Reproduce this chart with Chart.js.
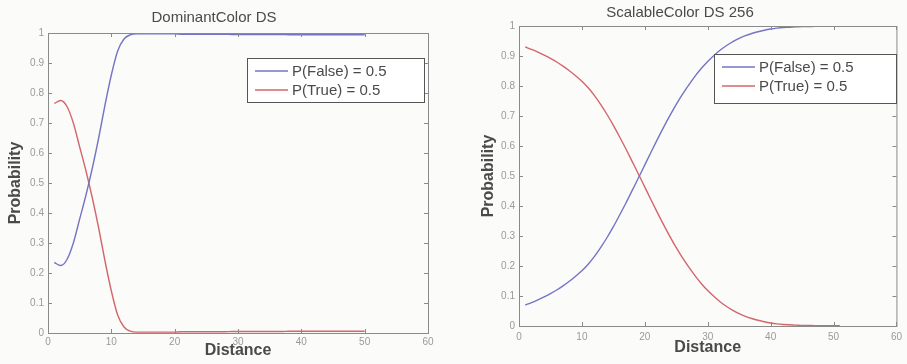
<!DOCTYPE html>
<html>
<head>
<meta charset="utf-8">
<script src="https://cdn.jsdelivr.net/npm/chart.js@4.4.0/dist/chart.umd.min.js"></script>
<style>
  html, body { margin:0; padding:0; background:#fbfbfa; }
  .wrap { position:absolute; top:0; height:364px; }
  canvas { display:block; }
</style>
</head>
<body>
<div class="wrap" style="left:0;width:455px"><canvas id="dominant" width="455" height="364"></canvas></div>
<div class="wrap" style="left:460px;width:447px"><canvas id="scalable" width="447" height="364"></canvas></div>
<script>
/* ── Data ── */
const SERIES_LABELS = ['P(False) = 0.5', 'P(True) = 0.5'];
const X_TICKS = [0, 10, 20, 30, 40, 50, 60];
const Y_TICKS = [0, 0.1, 0.2, 0.3, 0.4, 0.5, 0.6, 0.7, 0.8, 0.9, 1];

// DominantColor DS, distance 1..50
const DOM_DIST = [1,2,3,4,5,6,7,8,9,10,11,12,13,14,15,16,17,18,19,20,21,22,23,24,25,
                  26,27,28,29,30,31,32,33,34,35,36,37,38,39,40,41,42,43,44,45,46,47,48,49,50];
const DOM_FALSE = [0.235,0.225,0.245,0.30,0.38,0.46,0.55,0.65,0.76,0.86,0.94,0.98,0.994,0.997,0.997,
                   0.997,0.997,0.997,0.997,0.997,0.996,0.996,0.996,0.996,0.996,0.996,0.996,0.996,0.995,0.995,
                   0.995,0.995,0.995,0.995,0.995,0.995,0.995,0.994,0.994,0.994,0.994,0.994,0.994,0.994,0.994,
                   0.994,0.994,0.994,0.994,0.994];
const DOM_TRUE  = [0.765,0.775,0.755,0.70,0.62,0.54,0.45,0.35,0.24,0.14,0.06,0.02,0.006,0.003,0.003,
                   0.003,0.003,0.003,0.003,0.003,0.004,0.004,0.004,0.004,0.004,0.004,0.004,0.004,0.005,0.005,
                   0.005,0.005,0.005,0.005,0.005,0.005,0.005,0.006,0.006,0.006,0.006,0.006,0.006,0.006,0.006,
                   0.006,0.006,0.006,0.006,0.006];

// ScalableColor DS 256, distance 1..51
const SC_DIST = [1,2,3,4,5,6,7,8,9,10,11,12,13,14,15,16,17,18,19,20,21,22,23,24,25,26,
                 27,28,29,30,31,32,33,34,35,36,37,38,39,40,41,42,43,44,45,46,47,48,49,50,51];
const SC_FALSE = [0.07,0.078,0.087,0.097,0.108,0.12,0.134,0.149,0.166,0.184,0.206,0.232,0.262,0.295,0.331,
                  0.37,0.41,0.452,0.494,0.537,0.58,0.622,0.663,0.702,0.739,0.773,0.804,0.833,0.859,0.882,
                  0.902,0.92,0.935,0.948,0.959,0.968,0.975,0.981,0.986,0.99,0.993,0.995,0.996,0.997,0.998,
                  0.998,0.999,0.999,0.999,0.999,0.999];
const SC_TRUE  = [0.93,0.922,0.913,0.903,0.892,0.88,0.866,0.851,0.834,0.816,0.794,0.768,0.738,0.705,0.669,
                  0.63,0.59,0.548,0.506,0.463,0.42,0.378,0.337,0.298,0.261,0.227,0.196,0.167,0.141,0.118,
                  0.098,0.08,0.065,0.052,0.041,0.032,0.025,0.019,0.014,0.01,0.007,0.005,0.004,0.003,0.002,
                  0.002,0.001,0.001,0.001,0.001,0.001];

const BLUE = '#7474c4';
const RED  = '#d4666a';
const FRAME = '#8a8a8a';
const TICK_CLR = '#9a9a9a';
const TXT = '#4a4a4a';

const FONT = '"Liberation Sans", Arial, sans-serif';

/* ── Frame with inward ticks (all four sides) + boxed legend ── */
const matlabFrame = {
  id: 'matlabFrame',
  afterDatasetsDraw(chart, args, o) {
    const { ctx, chartArea: a, scales } = chart;
    const tl = 4;
    ctx.save();
    ctx.strokeStyle = FRAME;
    ctx.lineWidth = 1;
    ctx.strokeRect(a.left + 0.5, a.top + 0.5, a.right - a.left, a.bottom - a.top);
    ctx.beginPath();
    X_TICKS.forEach(v => {
      const px = Math.round(scales.x.getPixelForValue(v)) + 0.5;
      ctx.moveTo(px, a.bottom); ctx.lineTo(px, a.bottom - tl);
      ctx.moveTo(px, a.top);    ctx.lineTo(px, a.top + tl);
    });
    Y_TICKS.forEach(v => {
      const py = Math.round(scales.y.getPixelForValue(v)) + 0.5;
      ctx.moveTo(a.left, py);  ctx.lineTo(a.left + tl, py);
      ctx.moveTo(a.right, py); ctx.lineTo(a.right - tl, py);
    });
    ctx.stroke();

    // legend
    const lg = o.box;
    ctx.fillStyle = '#ffffff';
    ctx.fillRect(lg.x, lg.y, lg.w, lg.h);
    ctx.strokeStyle = '#555';
    ctx.strokeRect(lg.x + 0.5, lg.y + 0.5, lg.w, lg.h);
    ctx.font = '15px ' + FONT;
    ctx.textBaseline = 'middle';
    ctx.fillStyle = TXT;
    chart.data.datasets.forEach((ds, i) => {
      const cy = lg.y + 13 + i * 19;
      ctx.strokeStyle = ds.borderColor;
      ctx.lineWidth = 1.5;
      ctx.beginPath();
      ctx.moveTo(lg.x + 8, cy); ctx.lineTo(lg.x + 41, cy);
      ctx.stroke();
      ctx.fillText(ds.label, lg.x + 45, cy + 1);
    });
    ctx.restore();
  }
};

function makeChart(id, cfg) {
  const pts = (xs, ys) => xs.map((x, i) => ({ x, y: ys[i] }));
  return new Chart(document.getElementById(id), {
    type: 'line',
    data: {
      datasets: [
        { label: SERIES_LABELS[0], data: pts(cfg.dist, cfg.pFalse), borderColor: BLUE, borderWidth: 1.4, pointRadius: 0, tension: 0.35, cubicInterpolationMode: 'monotone' },
        { label: SERIES_LABELS[1], data: pts(cfg.dist, cfg.pTrue),  borderColor: RED,  borderWidth: 1.4, pointRadius: 0, tension: 0.35, cubicInterpolationMode: 'monotone' },
      ]
    },
    options: {
      responsive: false, animation: false,
      layout: { padding: { left: 0, right: cfg.padRight, top: 0, bottom: 0 } },
      plugins: {
        legend: { display: false },
        tooltip: { enabled: false },
        title: { display: true, text: cfg.title, color: TXT, font: { family: FONT, size: 15, weight: 'normal' }, padding: cfg.titlePad },
        matlabFrame: { box: cfg.legend }
      },
      scales: {
        x: {
          type: 'linear', min: 0, max: 60,
          afterBuildTicks: s => { s.ticks = X_TICKS.map(v => ({ value: v })); },
          afterFit: s => { s.height = cfg.xHeight; },
          grid: { display: false, drawTicks: false }, border: { display: false },
          ticks: { color: TICK_CLR, font: { family: FONT, size: 10 }, padding: cfg.xTickPad, maxRotation: 0 },
          title: { display: true, text: 'Distance', color: TXT, font: { family: FONT, size: 16, weight: 'bold' }, padding: { top: 0, bottom: cfg.xTitlePad } }
        },
        y: {
          min: 0, max: 1,
          afterBuildTicks: s => { s.ticks = Y_TICKS.map(v => ({ value: v })); },
          afterFit: s => { s.width = cfg.yWidth; },
          grid: { display: false, drawTicks: false }, border: { display: false },
          ticks: { color: TICK_CLR, font: { family: FONT, size: 10 }, padding: 4, callback: v => String(Number(v.toFixed(1))) },
          title: { display: true, text: 'Probability', color: TXT, font: { family: FONT, size: 16, weight: 'bold' }, padding: { top: cfg.yTitlePad, bottom: 0 } }
        }
      }
    },
    plugins: [matlabFrame]
  });
}

window.addEventListener('DOMContentLoaded', () => {
  makeChart('dominant', {
    title: 'DominantColor DS', dist: DOM_DIST, pFalse: DOM_FALSE, pTrue: DOM_TRUE,
    padRight: 27, titlePad: { top: 9, bottom: 6 }, xHeight: 31, yWidth: 48,
    xTickPad: 3, xTitlePad: 4, yTitlePad: 6,
    legend: { x: 247, y: 58, w: 177, h: 44 }
  });
  makeChart('scalable', {
    title: 'ScalableColor DS 256', dist: SC_DIST, pFalse: SC_FALSE, pTrue: SC_TRUE,
    padRight: 7, titlePad: { top: 4, bottom: 4 }, xHeight: 38, yWidth: 59,
    xTickPad: 5, xTitlePad: 7, yTitlePad: 19,
    legend: { x: 254, y: 54, w: 182, h: 49 }
  });
});
</script>
</body>
</html>
